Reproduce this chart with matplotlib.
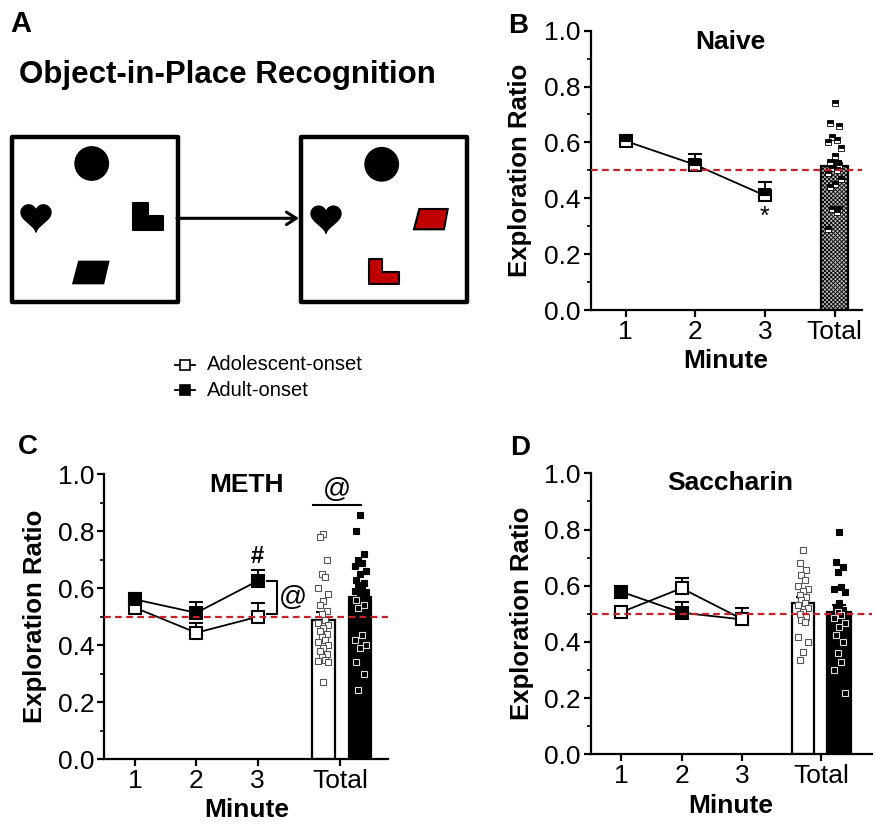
import numpy as np
import matplotlib
matplotlib.use("Agg")
import matplotlib.pyplot as plt
from matplotlib.patches import Rectangle, Circle, Polygon
from matplotlib.lines import Line2D

plt.rcParams['font.family'] = ['Liberation Sans', 'DejaVu Sans']
plt.rcParams['hatch.linewidth'] = 0.6

# ---- data ----
minutes = [1, 2, 3]

naive_mean = [0.605, 0.52, 0.41]
naive_sem = [0.02, 0.04, 0.05]
naive_total = 0.515
naive_total_sem = 0.02
naive_points = [0.74, 0.67, 0.66, 0.62, 0.61, 0.60, 0.58, 0.55, 0.53, 0.52,
                0.51, 0.50, 0.49, 0.47, 0.45, 0.44, 0.36, 0.36, 0.35, 0.29]

meth_adol_mean = [0.532, 0.444, 0.50]
meth_adol_sem = [0.02, 0.035, 0.047]
meth_adult_mean = [0.561, 0.514, 0.626]
meth_adult_sem = [0.021, 0.037, 0.038]
meth_adol_total, meth_adol_total_sem = 0.49, 0.028
meth_adult_total, meth_adult_total_sem = 0.568, 0.02
meth_adol_points = [0.79, 0.78, 0.70, 0.65, 0.64, 0.60, 0.58, 0.555, 0.54, 0.52,
                    0.51, 0.49, 0.48, 0.47, 0.46, 0.45, 0.44, 0.43, 0.42, 0.41,
                    0.40, 0.39, 0.38, 0.37, 0.36, 0.35, 0.345, 0.34, 0.27]
meth_adult_points = [0.857, 0.80, 0.72, 0.70, 0.69, 0.68, 0.66, 0.65, 0.63, 0.62,
                     0.61, 0.60, 0.59, 0.588, 0.575, 0.56, 0.54, 0.53, 0.436, 0.42,
                     0.40, 0.39, 0.343, 0.30, 0.243]

sacc_adol_mean = [0.505, 0.591, 0.481]
sacc_adol_sem = [0.015, 0.037, 0.041]
sacc_adult_mean = [0.579, 0.504, 0.48]
sacc_adult_sem = [0.01, 0.037, 0.01]
sacc_adol_total, sacc_adol_total_sem = 0.54, 0.021
sacc_adult_total, sacc_adult_total_sem = 0.507, 0.023
sacc_adol_points = [0.727, 0.68, 0.656, 0.638, 0.62, 0.60, 0.59, 0.58, 0.567, 0.56,
                    0.549, 0.54, 0.531, 0.52, 0.507, 0.50, 0.49, 0.478, 0.47, 0.419,
                    0.40, 0.365, 0.336]
sacc_adult_points = [0.79, 0.685, 0.668, 0.65, 0.597, 0.59, 0.579, 0.537, 0.525, 0.515,
                     0.507, 0.495, 0.484, 0.466, 0.454, 0.425, 0.40, 0.36, 0.33,
                     0.30, 0.217]

RED = "#c8202a"
TICK_FS = 19
LABEL_FS = 18.5


def jitter(values, spread):
    # deterministic spread for dot columns
    pattern = [0.0, -0.6, 0.6, -0.3, 0.3, -0.9, 0.9]
    return np.array([pattern[i % len(pattern)] * spread for i in range(len(values))])


def style_axis(ax, xlim, total_pos):
    ax.set_ylim(0, 1.0)
    ax.set_xlim(*xlim)
    ax.set_yticks(np.arange(0, 1.01, 0.2))
    ax.set_yticks(np.arange(0.1, 1.0, 0.2), minor=True)
    ax.set_yticklabels([f"{v:.1f}" for v in np.arange(0, 1.01, 0.2)])
    ax.set_xticks([1, 2, 3, total_pos])
    ax.set_xticklabels(["1", "2", "3", "Total"])
    for side in ['top', 'right']:
        ax.spines[side].set_visible(False)
    for side in ['left', 'bottom']:
        ax.spines[side].set_linewidth(1.6)
    ax.tick_params(axis='both', which='major', length=5, width=1.6, labelsize=TICK_FS, pad=2)
    ax.tick_params(axis='y', which='minor', length=3, width=1.2)
    ax.set_ylabel("Exploration Ratio", fontsize=LABEL_FS, fontweight='bold')
    ax.set_xlabel("Minute", fontsize=LABEL_FS + 0.5, fontweight='bold', labelpad=0)
    ax.axhline(0.5, color=RED, lw=1.6, ls=(0, (3, 2)), zorder=6, clip_on=False)


def line_series(ax, mean, sem, filled, z):
    ax.errorbar(minutes, mean, yerr=[np.zeros(3), sem], color='black', lw=1.3,
                elinewidth=1.3, capsize=5, capthick=1.3, zorder=z,
                marker='s', markersize=9, markeredgewidth=1.5, markeredgecolor='black',
                markerfacecolor='black' if filled else 'white')


def total_bar(ax, x, h, err, width, face, points, spread, pt_face):
    ax.bar(x, h, width=width, color=face, edgecolor='black', linewidth=1.6, zorder=2)
    ax.errorbar([x], [h], yerr=[[0], [err]], color='black', lw=1.5, capsize=5,
                capthick=1.5, zorder=3, fmt='none')
    xs = x + jitter(points, spread)
    for px, py in zip(xs, points):
        if pt_face == 'white':
            ax.plot(px, py, 's', ms=4.5, mfc='white', mec='#555555', mew=0.8, zorder=4)
        elif pt_face == 'black':
            if py > h:
                ax.plot(px, py, 's', ms=4.5, mfc='black', mec='black', mew=0.8, zorder=4)
            else:
                ax.plot(px, py, 's', ms=4.5, mfc='black', mec='#dddddd', mew=0.8, zorder=4)
        else:
            ax.plot(px, py, 's', ms=4.5, fillstyle='top', mfc='black', mfcalt='white',
                    mec='black', mew=0.6, zorder=4)


fig = plt.figure(figsize=(8.76, 8.31), dpi=100)

# ---- panel A (schematic, pixel coordinates) ----
axA = fig.add_axes([0, 0, 1, 1])
axA.set_xlim(0, 876)
axA.set_ylim(831, 0)
axA.axis('off')
axA.patch.set_alpha(0)

axA.text(21, 24, "A", fontsize=21, fontweight='bold', ha='center', va='center')
axA.text(227, 75, "Object-in-Place Recognition", fontsize=22.5, fontweight='bold',
         ha='center', va='center')


def heart(cx, cy, w):
    t = np.linspace(0, 2 * np.pi, 200)
    hx = 16 * np.sin(t) ** 3
    hy = 13 * np.cos(t) - 5 * np.cos(2 * t) - 2 * np.cos(3 * t) - np.cos(4 * t)
    s = w / 32.0
    return Polygon(np.column_stack([cx + hx * s, cy - hy * s - 1]), closed=True,
                   facecolor='black', edgecolor='black')


def lshape(x0, y0, x1, y1, vw, hh, face):
    pts = [(x0, y0), (x0 + vw, y0), (x0 + vw, y1 - hh), (x1, y1 - hh), (x1, y1), (x0, y1)]
    return Polygon(pts, closed=True, facecolor=face, edgecolor='black', lw=1.5, joinstyle='round')


for bx in [11.7, 301]:
    axA.add_patch(Rectangle((bx, 137), 166, 165, fill=False, lw=3.2, edgecolor='black',
                            joinstyle='round'))

# left box
axA.add_patch(Circle((91.7, 163.5), 16.7, color='black'))
axA.add_patch(heart(36, 217, 30))
axA.add_patch(lshape(133, 203, 163, 230, 15, 14, 'black'))
axA.add_patch(Polygon([(73.3, 283.3), (103.3, 283.3), (108.3, 261.7), (79, 261.7)],
                      closed=True, facecolor='black', edgecolor='black', lw=1.5))
# right box
axA.add_patch(Circle((381.7, 164.3), 16.7, color='black'))
axA.add_patch(heart(326, 218.3, 30))
axA.add_patch(lshape(369, 259.3, 399, 284.3, 12.7, 12.6, '#c00000'))
axA.add_patch(Polygon([(414, 229.3), (444, 229.3), (447.7, 209), (419.3, 209)],
                      closed=True, facecolor='#c00000', edgecolor='black', lw=1.5))
# arrow
axA.annotate("", xy=(299, 218.3), xytext=(177, 218.3),
             arrowprops=dict(arrowstyle='->,head_length=0.7,head_width=0.45', lw=2.2,
                             color='black', shrinkA=0, shrinkB=0))

# legend
for ly, filled, lab in [(365, False, "Adolescent-onset"), (390, True, "Adult-onset")]:
    axA.add_line(Line2D([175, 195], [ly, ly], color='black', lw=1.3))
    axA.plot(185, ly, 's', ms=7, mfc='black' if filled else 'white', mec='black', mew=1.2)
    axA.text(207, ly, lab, fontsize=14.5, ha='left', va='center')

# ---- panel B ----
axB = fig.add_axes([590.7 / 876, 1 - 310 / 831, 271 / 876, 279.3 / 831])
style_axis(axB, (0.5, 4.39), 4)
total_bar(axB, 4, naive_total, naive_total_sem, 0.39, 'white', naive_points, 0.1, 'mixed')
axB.patches[-1].set_hatch('xxxxxxxx')
axB.patches[-1].set_facecolor('#bdbdbd')
axB.errorbar(minutes, naive_mean, yerr=[np.zeros(3), naive_sem], color='black', lw=1.3,
             elinewidth=1.3, capsize=5, capthick=1.3, zorder=5, marker='s', markersize=9,
             fillstyle='top', markerfacecolor='black', markerfacecoloralt='white',
             markeredgecolor='black', markeredgewidth=1.5)
axB.text(0.514, 0.96, "Naive", transform=axB.transAxes, fontsize=LABEL_FS + 0.5,
         fontweight='bold', ha='center', va='center')
axB.text(3, 0.335, "*", fontsize=18, ha='center', va='center')
axB.yaxis.set_label_coords(-0.217, 0.5)
axB.xaxis.set_label_coords(0.5, -0.14)
fig.text(518 / 876, 1 - 26 / 831, "B", fontsize=20, fontweight='bold', ha='center', va='center')

# ---- panel C ----
axC = fig.add_axes([104.3 / 876, 1 - 759.3 / 831, 284 / 876, 285 / 831])
style_axis(axC, (0.5, 5.13), 4.35)
line_series(axC, meth_adol_mean, meth_adol_sem, False, 4)
line_series(axC, meth_adult_mean, meth_adult_sem, True, 5)
total_bar(axC, 4.07, meth_adol_total, meth_adol_total_sem, 0.37, 'white', meth_adol_points, 0.09, 'white')
total_bar(axC, 4.67, meth_adult_total, meth_adult_total_sem, 0.37, 'black', meth_adult_points, 0.1, 'black')
axC.text(0.501, 0.962, "METH", transform=axC.transAxes, fontsize=LABEL_FS + 0.5,
         fontweight='bold', ha='center', va='center')
axC.text(3, 0.71, "#", fontsize=17, fontweight='bold', ha='center', va='center')
axC.plot([3.15, 3.31, 3.31, 3.15], [0.626, 0.626, 0.51, 0.51], color='black', lw=1.5)
axC.text(3.58, 0.565, "@", fontsize=20, ha='center', va='center')
axC.plot([3.9, 4.69], [0.892, 0.892], color='black', lw=1.5)
axC.text(4.3, 0.945, "@", fontsize=20, ha='center', va='center')
axC.yaxis.set_label_coords(-0.2, 0.5)
axC.xaxis.set_label_coords(0.5, -0.135)
fig.text(28 / 876, 1 - 447 / 831, "C", fontsize=20, fontweight='bold', ha='center', va='center')

# ---- panel D ----
axD = fig.add_axes([590.5 / 876, 1 - 754.3 / 831, 281 / 876, 281 / 831])
style_axis(axD, (0.5, 5.13), 4.3)
line_series(axD, sacc_adult_mean, sacc_adult_sem, True, 4)
line_series(axD, sacc_adol_mean, sacc_adol_sem, False, 5)
total_bar(axD, 4.0, sacc_adol_total, sacc_adol_total_sem, 0.37, 'white', sacc_adol_points, 0.09, 'white')
total_bar(axD, 4.6, sacc_adult_total, sacc_adult_total_sem, 0.39, 'black', sacc_adult_points, 0.1, 'black')
axD.text(0.496, 0.964, "Saccharin", transform=axD.transAxes, fontsize=LABEL_FS + 0.5,
         fontweight='bold', ha='center', va='center')
axD.yaxis.set_label_coords(-0.2, 0.5)
axD.xaxis.set_label_coords(0.5, -0.14)
fig.text(520 / 876, 1 - 448 / 831, "D", fontsize=20, fontweight='bold', ha='center', va='center')

fig.savefig("out.png", dpi=100, facecolor='white')
